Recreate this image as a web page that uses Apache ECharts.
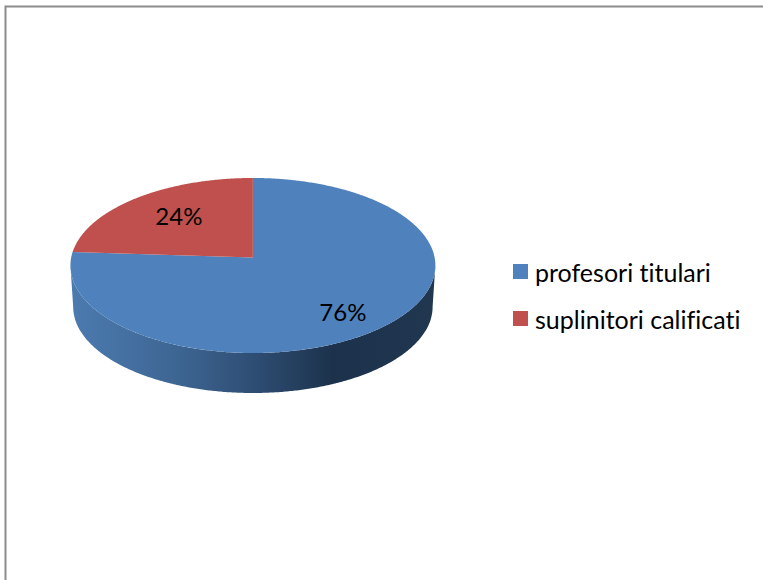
<!DOCTYPE html>
<html>
<head>
<meta charset="utf-8">
<style>html,body{margin:0;padding:0;background:#fff}#c{width:763px;height:580px}
svg text{font-variant-ligatures:none;font-feature-settings:"liga" 0,"clig" 0}</style>
<script src="https://cdn.jsdelivr.net/npm/echarts@6/dist/echarts.min.js"></script>
</head>
<body>
<div id="c"></div>
<script>
var categories = ['profesori titulari', 'suplinitori calificati'];
var values = [76, 24];
var colors = ['#4F81BD', '#C0504D'];

// perspective pie geometry
var CX = 252.9, CY = 257.5, RX = 181.7, RY = 86.8, K = 0.0915;
var DEPTH_CY = 298.9, DEPTH_SCALE = 0.985;
var FONT = '"Lato", "Open Sans", sans-serif';
var labelPlace = [{r: 0.69, dy: 8.5}, {r: 0.62, dy: -4}];
var sideFill = {
  type: 'linear', global: true, x: 70, y: 0, x2: 435, y2: 0,
  colorStops: [
    {offset: 0, color: '#4C7BB0'},
    {offset: 0.3, color: '#3D6592'},
    {offset: 0.5, color: '#2F4E74'},
    {offset: 0.72, color: '#1C324C'},
    {offset: 1, color: '#21364F'}
  ]
};
var total = values.reduce(function (a, b) { return a + b; }, 0);

function project(theta, r, cy, scale) {
  var u = Math.cos(theta) * r, v = Math.sin(theta) * r, w = 1 - K * v;
  return [CX + scale * RX * u / w, cy + scale * RY * v / w];
}
function arc(a, b, cy, scale) {
  var pts = [], n = Math.max(2, Math.ceil(Math.abs(b - a) / (Math.PI / 360)));
  for (var i = 0; i <= n; i++) pts.push(project(a + (b - a) * i / n, 1, cy, scale));
  return pts;
}
function sliceRange(idx) {
  var before = 0;
  for (var i = 0; i < idx; i++) before += values[i];
  var a = -Math.PI / 2 + before / total * 2 * Math.PI;
  return [a, a + values[idx] / total * 2 * Math.PI];
}
function renderSlice(idx) {
  return function (params, api) {
    var range = sliceRange(idx), a = range[0], b = range[1];
    var children = [];
    var vis0 = Math.asin(K), vis1 = Math.PI - vis0;
    var s0 = Math.max(a, vis0), s1 = Math.min(b, vis1);
    if (s1 > s0) {
      var topRim = arc(s0, s1, CY, 1), lowRim = arc(s1, s0, DEPTH_CY, DEPTH_SCALE);
      children.push({type: 'polygon', z2: 1, shape: {points: topRim.concat(lowRim)}, style: {fill: sideFill}});
    }
    children.push({type: 'polygon', z2: 2,
      shape: {points: [[CX, CY]].concat(arc(a, b, CY, 1))},
      style: {fill: colors[idx]}});
    var mid = (a + b) / 2, p = project(mid, labelPlace[idx].r, CY, 1);
    children.push({type: 'text', z2: 3, style: {
      x: p[0], y: p[1] + labelPlace[idx].dy,
      text: Math.round(api.value(0) / total * 100) + '%',
      align: 'center', verticalAlign: 'middle',
      fill: '#000', font: '24px ' + FONT
    }});
    return {type: 'group', children: children};
  };
}

var chart = echarts.init(document.getElementById('c'), null, {renderer: 'svg'});
chart.setOption({
  animation: false,
  backgroundColor: '#fff',
  legend: {
    left: 513, top: 259, orient: 'vertical', icon: 'rect',
    itemWidth: 15, itemHeight: 15, itemGap: 22, padding: 0,
    textStyle: {fontFamily: FONT, fontSize: 25, color: '#000', padding: [0, 0, 0, 2]},
    data: categories
  },
  graphic: [{
    type: 'polyline', silent: true,
    shape: {points: [[5.5, 581], [5.5, 6.5], [764, 6.5]]},
    style: {stroke: '#8C8C8C', lineWidth: 2, fill: null}
  }],
  series: categories.map(function (name, i) {
    return {
      type: 'custom', name: name, coordinateSystem: 'none',
      itemStyle: {color: colors[i]},
      data: [[values[i]]],
      renderItem: renderSlice(i)
    };
  })
});
</script>
</body>
</html>
